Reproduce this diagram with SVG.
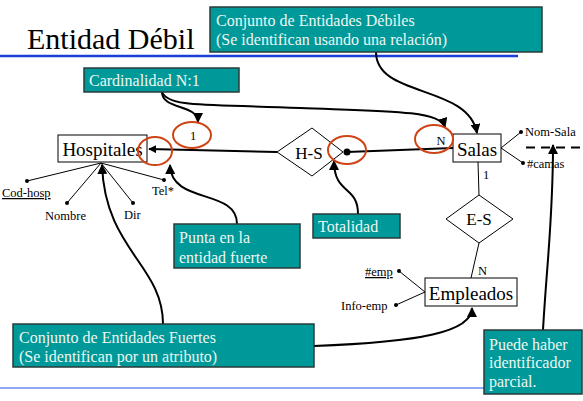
<svg xmlns="http://www.w3.org/2000/svg" width="583" height="401" viewBox="0 0 583 401">
<style>
text{font-family:"Liberation Serif","Times New Roman",serif;fill:#000}
.ent{fill:#fff;stroke:#000;stroke-width:1}
.rel{fill:#fff;stroke:#000;stroke-width:1}
.en{font-size:19px}
.at{font-size:12.5px}
.note rect{fill:#009999;stroke:#2b3b3b;stroke-width:1.5}
.note text{fill:#eef7f2;font-size:16px}
.ell{fill:none;stroke:#cf4416;stroke-width:2}
.ln{fill:none;stroke:#000;stroke-width:1}
.cv{fill:none;stroke:#000;stroke-width:2}
</style>
<defs>
<marker id="ah" viewBox="0 0 10 10" refX="9" refY="5" markerWidth="5" markerHeight="5" orient="auto"><path d="M0,0L10,5L0,10z" fill="#000"/></marker>
<marker id="ah2" viewBox="0 0 10 10" refX="9" refY="5" markerWidth="8" markerHeight="8" orient="auto" markerUnits="userSpaceOnUse"><path d="M0,0L10,5L0,10z" fill="#000"/></marker>
</defs>
<rect width="583" height="401" fill="#fff"/>
<text x="27" y="49" style="font-size:30px">Entidad Débil</text>
<line x1="0" y1="56" x2="518" y2="56" stroke="#1a3fd6" stroke-width="2.5"/>
<line x1="0" y1="388" x2="486" y2="388" stroke="#6a8cf0" stroke-width="1.5"/>

<g id="connectors">
<!-- attributes Hospitales -->
<line class="ln" x1="101" y1="163" x2="27" y2="181"/>
<line class="ln" x1="101" y1="163" x2="67" y2="203"/>
<line class="ln" x1="101" y1="163" x2="133" y2="203"/>
<line class="ln" x1="101" y1="163" x2="164" y2="180"/>
<circle cx="27" cy="181" r="2"/><circle cx="67" cy="203" r="2"/><circle cx="133" cy="203" r="2"/><circle cx="164" cy="180" r="2"/>
<!-- H-S to Hospitales -->
<path class="cv" d="M277,152 L149,149" stroke-width="1.5" marker-end="url(#ah2)"/>
<!-- H-S to Salas -->
<path class="cv" d="M347,152 L453,148" stroke-width="1.5"/>
<circle cx="347" cy="152" r="3.5"/>
<!-- Salas attributes -->
<line class="ln" x1="501" y1="148" x2="521" y2="132"/>
<line class="ln" x1="501" y1="148" x2="523" y2="163"/>
<circle cx="521" cy="132" r="2"/><circle cx="523" cy="163" r="2"/>
<line x1="526" y1="147.5" x2="583" y2="147.5" stroke="#000" stroke-width="2" stroke-dasharray="9,6"/>
<!-- Salas to E-S -->
<line class="ln" x1="478" y1="162" x2="479" y2="195"/>
<line class="ln" x1="479" y1="243" x2="471" y2="278"/>
<!-- Empleados attributes -->
<line class="ln" x1="425" y1="292" x2="399" y2="271"/>
<line class="ln" x1="425" y1="292" x2="396" y2="305"/>
<circle cx="399" cy="271" r="2"/><circle cx="396" cy="305" r="2"/>
<!-- note curves -->
<path class="cv" d="M162,92 C162,110 198,104 198,122" marker-end="url(#ah)"/>
<path class="cv" d="M162,92 C168,108 210,104 300,108 C380,111 440,110 445,127" marker-end="url(#ah)"/>
<path class="cv" d="M376,52 C376,98 468,84 477,133" marker-end="url(#ah)"/>
<path class="cv" d="M358,214 C358,185 334,195 334,161" marker-end="url(#ah)"/>
<path class="cv" d="M237,224 C237,188 171,205 170,165" marker-end="url(#ah)"/>
<path class="cv" d="M163,324 C163,265 105,250 102,165" marker-end="url(#ah)"/>
<path class="cv" d="M314,346 C420,342 472,332 472,308" marker-end="url(#ah)"/>
<path class="cv" d="M543,330 C547,260 553,220 553,145" marker-end="url(#ah)"/>
</g>

<g id="hospitales"><rect class="ent" x="58" y="135" width="89" height="27"/><text class="en" x="102.5" y="156" text-anchor="middle">Hospitales</text></g>
<g id="hs"><polygon class="rel" points="277,152 312,128 343,152 312,176"/><text x="309" y="159" text-anchor="middle" style="font-size:17px">H-S</text></g>
<g id="salas"><rect class="ent" x="453" y="134" width="48" height="28"/><text class="en" x="477" y="156" text-anchor="middle">Salas</text></g>
<g id="es"><polygon class="rel" points="479,195 513,219 479,243 446,219"/><text x="479" y="225" text-anchor="middle" style="font-size:17px">E-S</text></g>
<g id="empleados"><rect class="ent" x="425" y="278" width="92" height="28"/><text class="en" x="471" y="300" text-anchor="middle">Empleados</text></g>

<g id="attrs">
<text class="at" x="2" y="197" text-decoration="underline">Cod-hosp</text>
<text class="at" x="45" y="220">Nombre</text>
<text class="at" x="124" y="219">Dir</text>
<text class="at" x="152" y="195">Tel*</text>
<text class="at" x="525" y="136">Nom-Sala</text>
<text class="at" x="527" y="168">#camas</text>
<text class="at" x="365" y="276" text-decoration="underline">#emp</text>
<text class="at" x="341" y="310">Info-emp</text>
<text class="at" x="483" y="179">1</text>
<text class="at" x="478" y="275">N</text>
</g>

<g id="marks">
<ellipse class="ell" cx="192" cy="135" rx="19" ry="13"/>
<text class="at" x="193" y="140" text-anchor="middle">1</text>
<ellipse class="ell" cx="155" cy="151" rx="17" ry="14"/>
<ellipse class="ell" cx="347" cy="150" rx="19" ry="14"/>
<ellipse class="ell" cx="434" cy="139" rx="19" ry="14"/>
<text class="at" x="441" y="145" text-anchor="middle">N</text>
</g>

<g id="note-debiles" class="note"><rect x="210" y="7" width="332" height="45"/><text x="216" y="26">Conjunto de Entidades Débiles</text><text x="216" y="45">(Se identifican usando una relación)</text></g>
<g id="note-card" class="note"><rect x="84" y="68" width="155" height="24"/><text x="89" y="86">Cardinalidad N:1</text></g>
<g id="note-punta" class="note"><rect x="174" y="224" width="126" height="44"/><text x="179" y="243">Punta en la</text><text x="179" y="263">entidad fuerte</text></g>
<g id="note-total" class="note"><rect x="313" y="214" width="87" height="24"/><text x="318" y="232">Totalidad</text></g>
<g id="note-fuertes" class="note"><rect x="13" y="324" width="301" height="43"/><text x="19" y="343">Conjunto de Entidades Fuertes</text><text x="19" y="362">(Se identifican por un atributo)</text></g>
<g id="note-parcial" class="note"><rect x="484" y="330" width="98" height="64"/><text x="489" y="350">Puede haber</text><text x="489" y="368">identificador</text><text x="489" y="387">parcial.</text></g>
</svg>
